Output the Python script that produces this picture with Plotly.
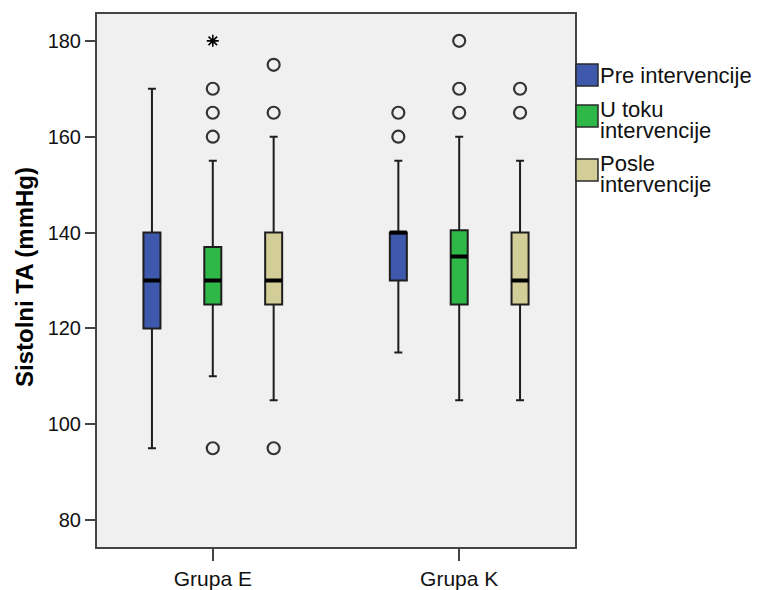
import plotly.graph_objects as go

# ---------------- data ----------------
groups = ["Grupa E", "Grupa K"]
series = ["Pre intervencije", "U toku intervencije", "Posle intervencije"]
legend_lines = [["Pre intervencije"], ["U toku", "intervencije"], ["Posle", "intervencije"]]
colors = ["#3E58AC", "#2EB848", "#D3CE97"]

q1_pre = [120, 130]
median_pre = [130, 140]
q3_pre = [140, 140]
low_pre = [95, 115]
high_pre = [170, 155]
out_pre = [[], [160, 165]]
ext_pre = [[], []]

q1_tok = [125, 125]
median_tok = [130, 135]
q3_tok = [137, 140.5]
low_tok = [110, 105]
high_tok = [155, 160]
out_tok = [[95, 160, 165, 170], [165, 170, 180]]
ext_tok = [[180], []]

q1_posle = [125, 125]
median_posle = [130, 130]
q3_posle = [140, 140]
low_posle = [105, 105]
high_posle = [160, 155]
out_posle = [[95, 165, 175], [165, 170]]
ext_posle = [[], []]

yticks = [80, 100, 120, 140, 160, 180]

stats = [
    (q1_pre, median_pre, q3_pre, low_pre, high_pre, out_pre, ext_pre),
    (q1_tok, median_tok, q3_tok, low_tok, high_tok, out_tok, ext_tok),
    (q1_posle, median_posle, q3_posle, low_posle, high_posle, out_posle, ext_posle),
]

# ---------------- layout constants ----------------
OFF = 8  # default page body margin
W, H = 762 - OFF, 590 - OFF
ML, MT = 97 - OFF, 14 - OFF
MR, MB = W - (575 - OFF), H - (547 - OFF)
PW, PH = W - ML - MR, H - MT - MB
FONT = "Liberation Sans, Arial, sans-serif"

offset = 0.247
box_w = 0.069

def px(xs):
    return (xs - OFF - ML) / PW

def py(ys):
    return 1 - (ys - OFF - MT) / PH

fig = go.Figure()

for si, (q1, med, q3, lo, hi, outs, exts) in enumerate(stats):
    pos = [gi + (si - 1) * offset for gi in range(len(groups))]
    fig.add_trace(go.Box(
        x=pos, q1=q1, median=med, q3=q3, lowerfence=lo, upperfence=hi,
        width=box_w, whiskerwidth=0.47, boxpoints=False,
        fillcolor=colors[si], line=dict(color="#1e1e1e", width=2),
        name=series[si], showlegend=False, hoverinfo="skip",
    ))
    # thick median line
    fig.add_trace(go.Box(
        x=pos, q1=med, median=med, q3=med, lowerfence=med, upperfence=med,
        width=box_w, whiskerwidth=0, boxpoints=False,
        fillcolor="rgba(0,0,0,0)", line=dict(color="#000000", width=4),
        showlegend=False, hoverinfo="skip",
    ))
    ox, oy = [], []
    for gi, vals in enumerate(outs):
        ox += [pos[gi]] * len(vals)
        oy += vals
    fig.add_trace(go.Scatter(
        x=ox, y=oy, mode="markers", showlegend=False, hoverinfo="skip",
        marker=dict(symbol="circle-open", size=12, color="#333333",
                    line=dict(width=2.2, color="#333333")),
    ))
    ex, ey = [], []
    for gi, vals in enumerate(exts):
        ex += [pos[gi]] * len(vals)
        ey += vals
    if ex:
        fig.add_trace(go.Scatter(
            x=ex, y=ey, mode="markers", showlegend=False, hoverinfo="skip",
            marker=dict(symbol="asterisk-open", size=10, color="#000",
                        line=dict(width=1.6, color="#000")),
        ))

# manual legend
sq_top = [64, 105, 159]
line_y = [[76], [110, 130], [164, 184]]
shapes = []
annotations = []
for i in range(3):
    shapes.append(dict(type="rect", xref="paper", yref="paper",
                       x0=px(576), x1=px(598), y0=py(sq_top[i] + 22), y1=py(sq_top[i]),
                       fillcolor=colors[i], line=dict(color="#2a2a2a", width=1.5)))
    for txt, yy in zip(legend_lines[i], line_y[i]):
        annotations.append(dict(text=txt, xref="paper", yref="paper", x=px(599), y=py(yy),
                                xanchor="left", yanchor="middle", showarrow=False,
                                borderpad=0,
                                font=dict(family=FONT, size=22, color="#111")))

annotations.append(dict(text="<b>Sistolni TA (mmHg)</b>", xref="paper", yref="paper",
                        x=px(25), y=py(277), textangle=-90, xanchor="center", yanchor="middle",
                        showarrow=False, font=dict(family=FONT, size=24, color="#000")))

fig.update_layout(
    width=W, height=H,
    margin=dict(l=ML, r=MR, t=MT, b=MB, autoexpand=False),
    paper_bgcolor="white", plot_bgcolor="#F0F0F0",
    boxmode="overlay", showlegend=False,
    shapes=shapes, annotations=annotations,
    font=dict(family=FONT),
)
fig.update_xaxes(
    range=[-0.47, 1.47], tickvals=list(range(len(groups))), ticktext=groups,
    ticks="outside", ticklen=12, tickwidth=2, tickcolor="#444",
    showline=True, mirror=True, linecolor="#444", linewidth=2,
    showgrid=False, zeroline=False, automargin=False,
    tickfont=dict(family=FONT, size=21, color="#111"),
)
fig.update_yaxes(
    range=[74.4, 185.6], tickvals=yticks,
    ticks="outside", ticklen=10, tickwidth=1.5, tickcolor="#444",
    showline=True, mirror=True, linecolor="#444", linewidth=2,
    showgrid=False, zeroline=False, automargin=False,
    tickfont=dict(family=FONT, size=20, color="#111"),
)

fig.write_html("out.html")
